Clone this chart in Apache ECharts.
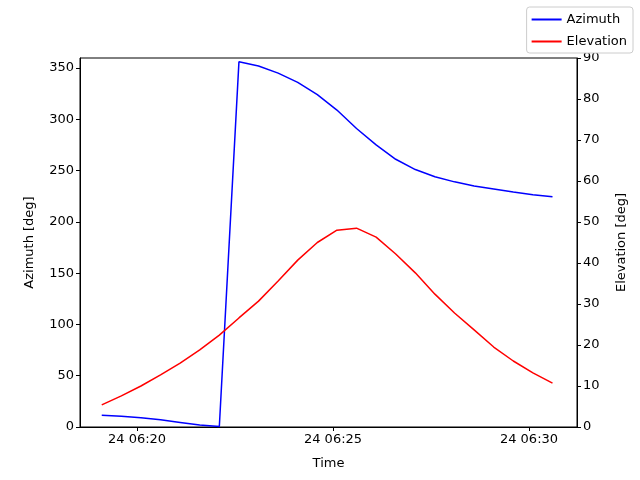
<!DOCTYPE html>
<html><head><meta charset="utf-8">
<script src="https://cdn.jsdelivr.net/npm/echarts@6/dist/echarts.min.js"></script>
<style>html,body{margin:0;padding:0;background:#fff}#c{width:640px;height:480px}</style>
</head><body><div id="c"></div>
<script>
const times = ["06:19:06","06:19:36","06:20:06","06:20:36","06:21:06","06:21:36","06:22:06","06:22:36","06:23:06","06:23:36","06:24:06","06:24:36","06:25:06","06:25:36","06:26:06","06:26:36","06:27:06","06:27:36","06:28:06","06:28:36","06:29:06","06:29:36","06:30:06","06:30:36"];
const azimuth = [11.5,10.5,9,7,4.5,2,0.5,356,352,345,336,324,309,291,275,261,251,244,239,235,232,229,226.5,224.5];
const elevation = [5.4,7.6,10,12.7,15.6,18.8,22.4,26.6,30.7,35.6,40.7,45,48,48.5,46.3,42.2,37.6,32.4,27.8,23.7,19.5,16.1,13.2,10.7];
const tickTimes = ["06:20","06:25","06:30"];
const dayLabel = "24";

function toMin(s){const p=s.split(':').map(Number);return (p[0]-6)*60+p[1]+(p[2]||0)/60;}
const xs = times.map(toMin);
const ticks = tickTimes.map(toMin);
const font = {fontFamily:'DejaVu Sans',fontSize:13,color:'#000'};
const chart = echarts.init(document.getElementById('c'));
chart.setOption({
  animation:false,
  grid:{left:80,right:63,top:58,bottom:53,show:true,borderColor:'#000',borderWidth:1,backgroundColor:'transparent'},
  legend:{right:7,top:7,orient:'vertical',itemWidth:30,itemHeight:2,itemGap:9,
    backgroundColor:'#fff',borderColor:'#ccc',borderWidth:1,borderRadius:3,padding:[6,6,5,5],
    textStyle:{fontFamily:'DejaVu Sans',fontSize:13,color:'#000'},
    data:[{name:'Azimuth',icon:'rect'},{name:'Elevation',icon:'rect'}]},
  xAxis:{type:'value',min:18.545,max:31.225,name:'Time',nameLocation:'middle',nameGap:30,
    nameTextStyle:font,splitLine:{show:false},
    axisLine:{lineStyle:{color:'#000'}},
    axisTick:{customValues:ticks,length:4,lineStyle:{color:'#000'}},
    axisLabel:{customValues:ticks,...font,margin:6,formatter:v=>{
      const h=6+Math.floor(v/60),m=Math.round(v%60);return dayLabel+' '+String(h).padStart(2,'0')+':'+String(m).padStart(2,'0');}}},
  yAxis:[
    {type:'value',min:0,max:369/359*350,interval:50,name:'Azimuth [deg]',nameLocation:'middle',nameGap:44,
     nameTextStyle:font,splitLine:{show:false},axisLine:{show:true,lineStyle:{color:'#000'}},
     axisTick:{show:true,length:4,lineStyle:{color:'#000'}},axisLabel:{...font,margin:6,showMaxLabel:false}},
    {type:'value',min:0,max:90,interval:10,name:'Elevation [deg]',nameLocation:'middle',nameGap:38,
     nameTextStyle:font,splitLine:{show:false},axisLine:{show:true,lineStyle:{color:'#000'}},
     axisTick:{show:true,length:4,lineStyle:{color:'#000'}},axisLabel:{...font,margin:6}}
  ],
  series:[
    {name:'Azimuth',type:'line',yAxisIndex:0,showSymbol:false,color:'#0000ff',lineStyle:{width:1.5,color:'#0000ff'},
     data:xs.map((x,i)=>[x,azimuth[i]])},
    {name:'Elevation',type:'line',yAxisIndex:1,showSymbol:false,color:'#ff0000',lineStyle:{width:1.5,color:'#ff0000'},
     data:xs.map((x,i)=>[x,elevation[i]])}
  ]
});
</script></body></html>
